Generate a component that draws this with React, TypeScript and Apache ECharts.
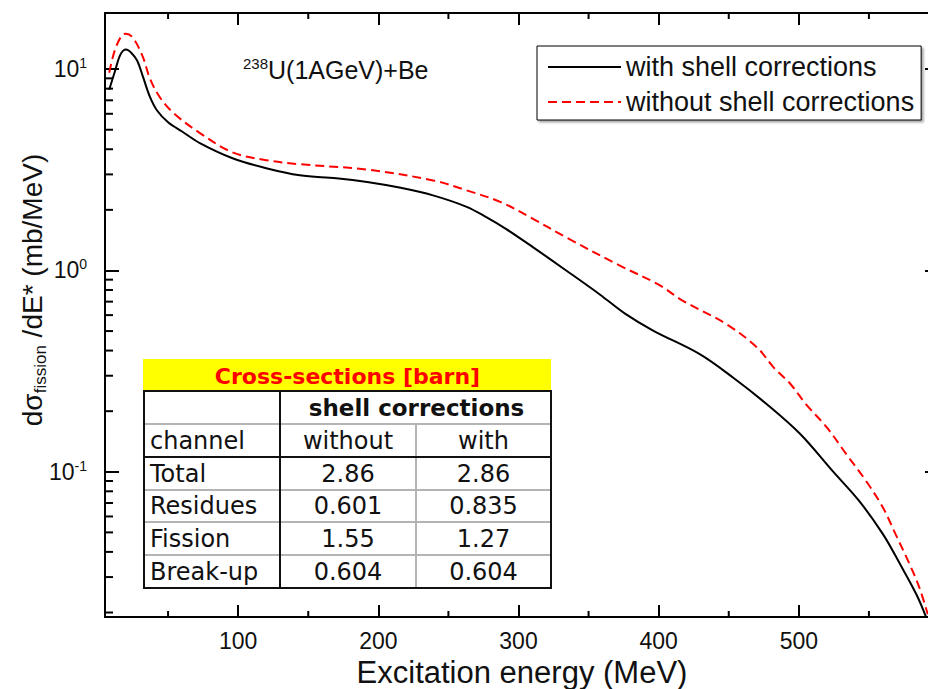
import React, { useEffect, useRef } from 'react';
import * as echarts from 'echarts';

// Fission cross-section per excitation energy, 238U(1 A GeV)+Be
const energyWith = [8, 12, 16, 20, 24, 28, 32, 37, 42, 50, 60, 73, 96, 120, 144, 170, 192, 215, 239, 263, 277, 291, 310, 334, 358, 376, 396, 429, 453, 477, 501, 524, 543, 560, 572, 584, 591];
const sigmaWith = [7.9, 9.7, 11.8, 12.5, 12.0, 11.0, 9.2, 7.3, 6.25, 5.45, 4.9, 4.28, 3.61, 3.22, 2.97, 2.87, 2.75, 2.58, 2.36, 2.07, 1.84, 1.61, 1.31, 1.0, 0.76, 0.61, 0.503, 0.385, 0.294, 0.217, 0.154, 0.101, 0.0717, 0.049, 0.035, 0.0245, 0.0188];

const energyWithout = [8, 12, 17, 20, 25, 32, 37, 44, 54, 73, 96, 120, 144, 192, 239, 263, 287, 310, 334, 372, 400, 417, 448, 470, 482, 494, 505, 520, 534, 548, 560, 569, 579, 586, 592];
const sigmaWithout = [9.6, 12.4, 14.7, 15.0, 14.3, 11.5, 9.0, 7.27, 6.04, 4.8, 3.86, 3.53, 3.37, 3.17, 2.8, 2.5, 2.19, 1.81, 1.46, 1.06, 0.85, 0.709, 0.543, 0.416, 0.33, 0.273, 0.217, 0.166, 0.122, 0.09, 0.0664, 0.049, 0.0348, 0.0266, 0.0196];

// Axis ranges and minor tick positions
const xRange = [5, 600];
const yRange = [0.019, 19];
const xMinorTicks = [50, 150, 250, 350, 450, 550];
const yDecades = [0.01, 0.1, 1, 10];
const yMantissas = [2, 3, 4, 5, 6, 7, 8, 9];

// Cross-section table [barn]
const tableChannels = ['Total', 'Residues', 'Fission', 'Break-up'];
const xsWithout = ['2.86', '0.601', '1.55', '0.604'];
const xsWith = ['2.86', '0.835', '1.27', '0.604'];

const FONT = "'Liberation Sans', Arial, Helvetica, sans-serif";
const TFONT = "'DejaVu Sans', Verdana, sans-serif";

function buildTable() {
  const cx = [144, 280, 416, 551];
  const ry = [359, 391, 424, 457, 490, 522, 555, 588];
  const els: any[] = [];
  const light = '#b4b4b4';
  els.push({ type: 'rect', shape: { x: cx[0], y: ry[1], width: cx[3] - cx[0], height: ry[7] - ry[1] }, style: { fill: '#fff' } });
  els.push({ type: 'rect', shape: { x: cx[0] - 1, y: ry[0], width: cx[3] - cx[0] + 1, height: ry[1] - ry[0] }, style: { fill: '#ffff00' } });
  els.push({
    type: 'text', x: (cx[0] + cx[3]) / 2, y: (ry[0] + ry[1]) / 2 + 1,
    style: { text: 'Cross-sections [barn]', fill: '#ff0000', fontFamily: TFONT, fontWeight: 'bold', fontSize: 22, align: 'center', verticalAlign: 'middle', textAlign: 'center', textVerticalAlign: 'middle' },
  });
  [ry[2], ry[4], ry[5], ry[6]].forEach((y) => {
    els.push({ type: 'line', shape: { x1: cx[0], y1: y, x2: cx[3], y2: y }, style: { stroke: light, lineWidth: 2 } });
  });
  els.push({ type: 'line', shape: { x1: cx[2], y1: ry[2], x2: cx[2], y2: ry[7] }, style: { stroke: light, lineWidth: 2 } });
  [ry[1], ry[3], ry[7]].forEach((y) => {
    els.push({ type: 'line', shape: { x1: cx[0] - 1, y1: y, x2: cx[3] + 1, y2: y }, style: { stroke: '#111', lineWidth: 2 } });
  });
  [cx[0], cx[1], cx[3]].forEach((x) => {
    els.push({ type: 'line', shape: { x1: x, y1: ry[1], x2: x, y2: ry[7] }, style: { stroke: '#111', lineWidth: 2 } });
  });
  const txt = (text: string, x: number, y: number, align: string, bold = false, size = 24) => ({
    type: 'text', x, y,
    style: { text, fill: '#111', fontFamily: TFONT, fontWeight: bold ? 'bold' : 'normal', fontSize: size, align, verticalAlign: 'middle', textAlign: align, textVerticalAlign: 'middle' },
  });
  const c2 = (cx[1] + cx[2]) / 2;
  const c3 = (cx[2] + cx[3]) / 2;
  els.push(txt('shell corrections', (cx[1] + cx[3]) / 2 + 1, (ry[1] + ry[2]) / 2, 'center', true, 23));
  els.push(txt('channel', cx[0] + 6, (ry[2] + ry[3]) / 2, 'left'));
  els.push(txt('without', c2, (ry[2] + ry[3]) / 2, 'center'));
  els.push(txt('with', c3, (ry[2] + ry[3]) / 2, 'center'));
  tableChannels.forEach((ch, i) => {
    const y = (ry[3 + i] + ry[4 + i]) / 2;
    els.push(txt(ch, cx[0] + 6, y, 'left'));
    els.push(txt(xsWithout[i], c2, y, 'center'));
    els.push(txt(xsWith[i], c3, y, 'center'));
  });
  return els;
}

export default function App() {
  const ref = useRef<HTMLDivElement>(null);

  useEffect(() => {
    if (!ref.current) return;
    const chart = echarts.init(ref.current, null, { renderer: 'svg' });

    const minorData: any[] = [];
    yDecades.forEach((d) => yMantissas.forEach((m) => {
      const v = d * m;
      if (v > yRange[0] && v < yRange[1]) minorData.push([xRange[0], v, 0]);
    }));
    xMinorTicks.forEach((v) => minorData.push([v, yRange[0], 1]));

    const logLabel = (v: number) => {
      const l = Math.log10(v);
      const e = Math.round(l);
      if (Math.abs(l - e) > 1e-6) return '';
      return `{b|10}{s|${e}}`;
    };

    const axisLine = { show: true, lineStyle: { color: '#000', width: 2 } };

    chart.setOption({
      animation: false,
      backgroundColor: '#fff',
      grid: { left: 105, top: 13, width: 834, height: 604, outerBoundsMode: 'none', containLabel: false },
      legend: {
        orient: 'vertical', left: 537, top: 46,
        itemWidth: 73, itemHeight: 14, itemGap: 5,
        padding: [6, 7, 3, 10],
        borderColor: '#000', borderWidth: 1, backgroundColor: '#fff',
        shadowColor: 'rgba(0,0,0,0.35)', shadowBlur: 2, shadowOffsetX: 2, shadowOffsetY: 2,
        itemStyle: { opacity: 0, color: 'rgba(0,0,0,0)', borderWidth: 0 },
        textStyle: { fontSize: 27, color: '#111', fontFamily: FONT, lineHeight: 30 },
        data: ['with shell corrections', 'without shell corrections'],
      },
      xAxis: [
        {
          type: 'value', min: xRange[0], max: xRange[1], splitNumber: 6, position: 'bottom',
          axisLine, splitLine: { show: false },
          axisTick: { inside: true, length: 12, lineStyle: { color: '#000', width: 2 } },
          axisLabel: {
            fontSize: 23, color: '#111', fontFamily: FONT, margin: 12,
            formatter: (v: number) => (v % 100 === 0 && v < xRange[1] ? String(v) : ''),
          },
          name: 'Excitation energy (MeV)', nameLocation: 'middle', nameGap: 37,
          nameTextStyle: { fontSize: 31, color: '#111', fontFamily: FONT, lineHeight: 32 },
        },
        {
          type: 'value', min: xRange[0], max: xRange[1], splitNumber: 6, position: 'top',
          axisLine, splitLine: { show: false },
          axisTick: { inside: true, length: 12, lineStyle: { color: '#000', width: 2 } },
          axisLabel: { show: false },
        },
      ],
      yAxis: [
        {
          type: 'log', logBase: 10, min: yRange[0], max: yRange[1], position: 'left',
          axisLine, splitLine: { show: false },
          axisTick: { inside: true, length: 14, lineStyle: { color: '#000', width: 2 } },
          axisLabel: {
            formatter: logLabel, margin: 18, color: '#111',
            rich: {
              b: { fontSize: 23, fontFamily: FONT, color: '#111', lineHeight: 26 },
              s: { fontSize: 14, fontFamily: FONT, color: '#111', verticalAlign: 'top', lineHeight: 14 },
            },
          },
        },
        {
          type: 'log', logBase: 10, min: yRange[0], max: yRange[1], position: 'right',
          axisLine, splitLine: { show: false },
          axisTick: { inside: true, length: 14, lineStyle: { color: '#000', width: 2 } },
          axisLabel: { show: false },
        },
      ],
      series: [
        {
          name: 'with shell corrections', type: 'line', xAxisIndex: 0, yAxisIndex: 0,
          data: energyWith.map((e, i) => [e, sigmaWith[i]]),
          smooth: 0.35, symbol: 'none', showSymbol: false,
          lineStyle: { color: '#000', width: 2 }, itemStyle: { color: '#000' },
          z: 3,
        },
        {
          name: 'without shell corrections', type: 'line', xAxisIndex: 0, yAxisIndex: 0,
          data: energyWithout.map((e, i) => [e, sigmaWithout[i]]),
          smooth: 0.35, symbol: 'none', showSymbol: false,
          lineStyle: { color: '#ff0000', width: 2, type: [9, 5] }, itemStyle: { color: '#ff0000' },
          z: 3,
        },
        {
          name: 'minor ticks', type: 'custom', xAxisIndex: 0, yAxisIndex: 0, silent: true,
          encode: { x: 0, y: 1 }, data: minorData, z: 4,
          renderItem: (params: any, api: any) => {
            const kind = api.value(2);
            const p = api.coord([api.value(0), api.value(1)]);
            const cs = params.coordSys;
            const st = { stroke: '#000', lineWidth: 2 };
            if (kind === 0) {
              return {
                type: 'group', children: [
                  { type: 'line', shape: { x1: cs.x, y1: p[1], x2: cs.x + 8, y2: p[1] }, style: st },
                  { type: 'line', shape: { x1: cs.x + cs.width, y1: p[1], x2: cs.x + cs.width - 8, y2: p[1] }, style: st },
                ],
              };
            }
            return {
              type: 'group', children: [
                { type: 'line', shape: { x1: p[0], y1: cs.y + cs.height, x2: p[0], y2: cs.y + cs.height - 6 }, style: st },
                { type: 'line', shape: { x1: p[0], y1: cs.y, x2: p[0], y2: cs.y + 6 }, style: st },
              ],
            };
          },
        },
      ],
      graphic: [
        {
          type: 'text', x: 243, y: 70,
          style: {
            text: '{sup|238}{m|U(1AGeV)+Be}', align: 'left', verticalAlign: 'middle', textAlign: 'left', textVerticalAlign: 'middle',
            rich: {
              sup: { fontSize: 15, fontFamily: FONT, fill: '#111', color: '#111', verticalAlign: 'top', lineHeight: 15 },
              m: { fontSize: 25, fontFamily: FONT, fill: '#111', color: '#111', lineHeight: 28 },
            },
          },
        },
        {
          type: 'text', x: 32, y: 290, rotation: Math.PI / 2,
          style: {
            text: '{m|d\u03c3}{s|fission}{m| /dE* (mb/MeV)}', align: 'center', verticalAlign: 'middle', textAlign: 'center', textVerticalAlign: 'middle',
            rich: {
              m: { fontSize: 28, fontFamily: FONT, fill: '#111', color: '#111', lineHeight: 34 },
              s: { fontSize: 17, fontFamily: FONT, fill: '#111', color: '#111', verticalAlign: 'bottom', lineHeight: 17 },
            },
          },
        },
        ...buildTable(),
      ],
    });

    return () => chart.dispose();
  }, []);

  return <div ref={ref} style={{ position: 'absolute', left: 0, top: 0, width: 928, height: 689 }} />;
}
